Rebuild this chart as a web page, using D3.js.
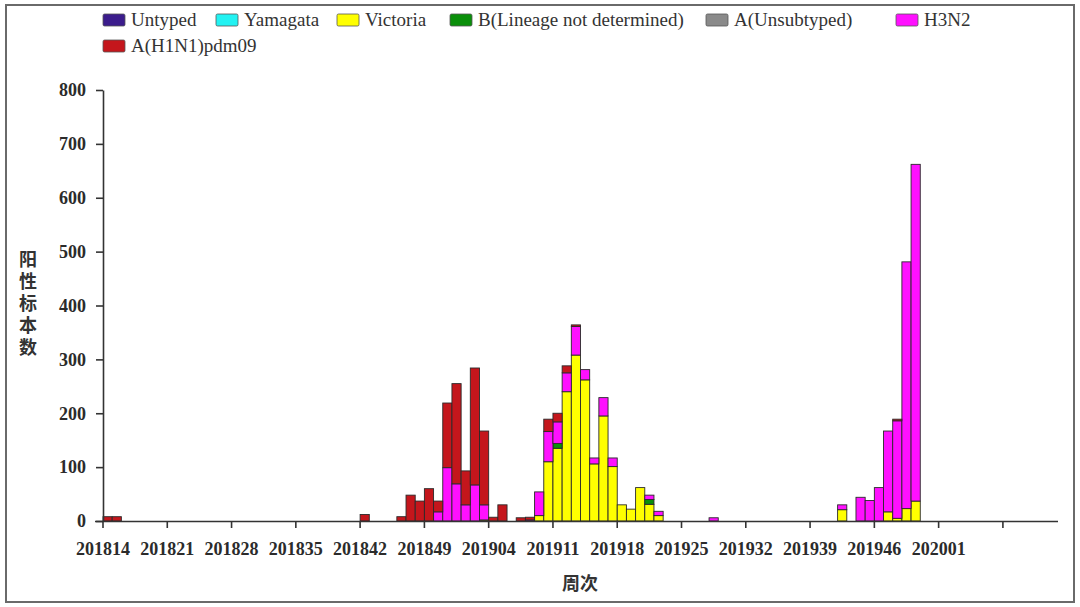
<!DOCTYPE html>
<html><head><meta charset="utf-8">
<script src="https://cdn.jsdelivr.net/npm/d3@7"></script>
<style>
html,body{margin:0;padding:0;background:#fff;}
svg{display:block;}
</style></head>
<body>
<svg id="chart" width="1080" height="607"></svg>
<script>
// ---------- DATA ----------
const categories = [
"201814","201815","201816","201817","201818","201819","201820","201821","201822","201823","201824","201825","201826",
"201827","201828","201829","201830","201831","201832","201833","201834","201835","201836","201837","201838","201839",
"201840","201841","201842","201843","201844","201845","201846","201847","201848","201849","201850","201851","201852",
"201901","201902","201903","201904","201905","201906","201907","201908","201909","201910","201911","201912","201913",
"201914","201915","201916","201917","201918","201919","201920","201921","201922","201923","201924","201925","201926",
"201927","201928","201929","201930","201931","201932","201933","201934","201935","201936","201937","201938","201939",
"201940","201941","201942","201943","201944","201945","201946","201947","201948","201949","201950","201951","201952",
"202001","202002","202003","202004","202005","202006","202007","202008","202009","202010","202011","202012","202013"];

const tickLabels = ["201814","201821","201828","201835","201842","201849","201904","201911","201918","201925","201932","201939","201946","202001"];

const seriesNames = ["Untyped","Yamagata","Victoria","B(Lineage not determined)","A(Unsubtyped)","H3N2","A(H1N1)pdm09"];

const untyped = [
0,0,0,0,0,0,0,0,0,0,0,0,0, 0,0,0,0,0,0,0,0,0,0,0,0,0, 0,0,0,0,0,0,0,0,0,0,0,0,0, 0,0,0,0,0,0,0,0,0,0,0,0,0,
0,0,0,0,0,0,0,0,0,0,0,0,0, 0,0,0,0,0,0,0,0,0,0,0,0,0, 0,0,0,0,0,0,0,0,0,0,0,0,0, 0,0,0,0,0,0,0,0,0,0,0,0,0];
const yamagata = [
0,0,0,0,0,0,0,0,0,0,0,0,0, 0,0,0,0,0,0,0,0,0,0,0,0,0, 0,0,0,0,0,0,0,0,0,0,0,0,0, 0,0,0,0,0,0,0,0,0,0,0,0,0,
0,0,0,0,0,0,0,0,0,0,0,0,0, 0,0,0,0,0,0,0,0,0,0,0,0,0, 0,0,0,0,0,0,0,0,0,0,0,0,0, 0,0,0,0,0,0,0,0,0,0,0,0,0];
const victoria = [
0,0,0,0,0,0,0,0,0,0,0,0,0,
0,0,0,0,0,0,0,0,0,0,0,0,0,
0,0,0,0,0,0,0,0,0,0,0,0,0,
0,0,2,0,0,0,0,0,10,110,135,240,308,
262,106,195,101,30,22,62,31,10,0,0,0,0,
0,0,0,0,0,0,0,0,0,0,0,0,0,
0,0,21,0,0,0,0,17,5,23,37,0,0,
0,0,0,0,0,0,0,0,0,0,0,0,0];
const bLineage = [
0,0,0,0,0,0,0,0,0,0,0,0,0,
0,0,0,0,0,0,0,0,0,0,0,0,0,
0,0,0,0,0,0,0,0,0,0,0,0,0,
0,0,0,0,0,0,0,0,0,0,9,0,0,
0,0,0,0,0,0,0,9,0,0,0,0,0,
0,0,0,0,0,0,0,0,0,0,0,0,0,
0,0,0,0,0,0,0,0,0,0,0,0,0,
0,0,0,0,0,0,0,0,0,0,0,0,0];
const aUnsubtyped = [
0,0,0,0,0,0,0,0,0,0,0,0,0, 0,0,0,0,0,0,0,0,0,0,0,0,0, 0,0,0,0,0,0,0,0,0,0,0,0,0, 0,0,0,0,0,0,0,0,0,0,0,0,0,
0,0,0,0,0,0,0,0,0,0,0,0,0, 0,0,0,0,0,0,0,0,0,0,0,0,0, 0,0,0,0,0,0,0,0,0,0,0,0,0, 0,0,0,0,0,0,0,0,0,0,0,0,0];
const h3n2 = [
0,0,0,0,0,0,0,0,0,0,0,0,0,
0,0,0,0,0,0,0,0,0,0,0,0,0,
0,0,0,0,0,0,0,0,0,0,17,99,69,
30,67,28,0,0,0,0,2,44,56,40,35,53,
19,11,34,16,0,0,0,8,8,0,0,0,0,
0,6,0,0,0,0,0,0,0,0,0,0,0,
0,0,9,0,44,38,62,150,181,458,625,0,0,
0,0,0,0,0,0,0,0,0,0,0,0,0];
const h1n1 = [
8,8,0,0,0,0,0,0,0,0,0,0,0,
0,0,0,0,0,0,0,0,0,0,0,0,0,
0,0,12,0,0,0,8,48,37,60,20,120,186,
63,217,137,7,30,0,6,5,0,23,16,13,3,
0,0,0,0,0,0,0,0,0,0,0,0,0,
0,0,0,0,0,0,0,0,0,0,0,0,0,
0,0,0,0,0,0,0,0,3,0,0,0,0,
0,0,0,0,0,0,0,0,0,0,0,0,0];

const seriesValues = [untyped, yamagata, victoria, bLineage, aUnsubtyped, h3n2, h1n1];
const seriesColors = ["#3b1c8c","#22f2f2","#ffff00","#0a8f0a","#8a8a8a","#ff10ff","#c4161c"];

const yTicks = [0,100,200,300,400,500,600,700,800];

// ---------- LAYOUT ----------
const plot = {left:103, right:1058, top:90, bottom:521};
const svg = d3.select("#chart");
const serif = "'Liberation Serif','Times New Roman',serif";
const cjk = "'Noto Sans CJK SC','Noto Sans',sans-serif";

// frame
svg.append("rect").attr("x",6).attr("y",5).attr("width",1068).attr("height",597)
  .attr("fill","#fff").attr("stroke","#6a6a6a").attr("stroke-width",2);

const table = categories.map((c,i)=>{
  const o = {cat:c};
  seriesNames.forEach((s,k)=>{o[s]=seriesValues[k][i];});
  return o;
});

const x = d3.scaleBand().domain(categories).range([plot.left, plot.right]).padding(0);
const y = d3.scaleLinear().domain([0,800]).range([plot.bottom, plot.top]);
const color = d3.scaleOrdinal().domain(seriesNames).range(seriesColors);

const stacked = d3.stack().keys(seriesNames)(table);

const gBars = svg.append("g");
stacked.forEach(layer=>{
  gBars.append("g").attr("fill", color(layer.key))
    .selectAll("rect")
    .data(layer.filter(d=>d[1]-d[0]>0))
    .join("rect")
    .attr("x", d=>x(d.data.cat))
    .attr("width", x.bandwidth())
    .attr("y", d=>y(d[1]))
    .attr("height", d=>y(d[0])-y(d[1]))
    .attr("stroke","#2a2a2a").attr("stroke-width",0.9);
});

// x axis
const xTickVals = categories.filter((c,i)=>i%7===0);
const xAxis = svg.append("g").attr("transform",`translate(0,${plot.bottom})`)
  .call(d3.axisBottom(x).tickValues(xTickVals).tickSize(7).tickSizeOuter(0).tickPadding(14)
    .tickFormat(d=>tickLabels.includes(d)?d:""));
xAxis.selectAll(".tick").attr("transform", d=>`translate(${x(d)},0)`);
xAxis.select(".domain").attr("d",`M${plot.left-8},0.5H${plot.right}`);

// y axis
const yAxis = svg.append("g").attr("transform",`translate(${plot.left},0)`)
  .call(d3.axisLeft(y).tickValues(yTicks).tickSize(7).tickSizeOuter(0).tickPadding(10));

[xAxis,yAxis].forEach(a=>{
  a.select(".domain").attr("stroke","#333").attr("stroke-width",1.6);
  a.selectAll(".tick line").attr("stroke","#333").attr("stroke-width",1.6);
  a.selectAll(".tick text").attr("fill","#2b2b2b").style("font-family",serif)
    .style("font-size","18px").style("font-weight","bold");
});

// axis titles
svg.append("text").attr("x",580).attr("y",590).attr("text-anchor","middle")
  .style("font-family",cjk).style("font-size","18px").style("font-weight","bold")
  .attr("fill","#333").text("周次");
svg.append("text").attr("x",28).attr("y",250)
  .style("writing-mode","vertical-rl").style("text-orientation","upright")
  .style("letter-spacing","4px")
  .style("font-family",cjk).style("font-size","18px").style("font-weight","bold")
  .attr("fill","#333").text("阳性标本数");

// legend
const legendPos = [[103,20],[216,20],[337,20],[450,20],[706,20],[896,20],[103,46]];
const lg = svg.append("g");
seriesNames.forEach((s,k)=>{
  const [lx,ly] = legendPos[k];
  lg.append("rect").attr("x",lx).attr("y",ly-6).attr("width",22).attr("height",12)
    .attr("rx",1.5).attr("fill",seriesColors[k]).attr("stroke","#555").attr("stroke-width",0.8);
  lg.append("text").attr("x",lx+28).attr("y",ly+6)
    .style("font-family",serif).style("font-size","19px").attr("fill","#333").text(s);
});
</script>
</body></html>
